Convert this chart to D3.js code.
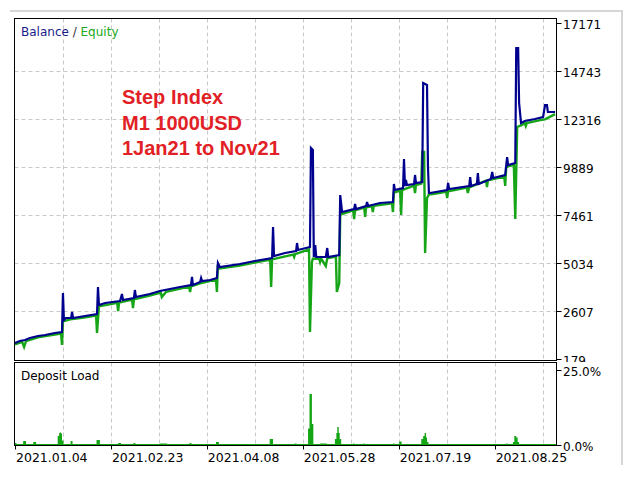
<!DOCTYPE html>
<html>
<head>
<meta charset="utf-8">
<script src="https://d3js.org/d3.v7.min.js"></script>
<style>
    body { margin: 0; background: #fff; }
    svg text { font-family: "DejaVu Sans", sans-serif; }
</style>
</head>
<body>
<div id="chart"></div>
<script>
// deal number -> balance / equity (USD)
const balance = [
    [0, 988], [10, 1089], [21, 1140], [31, 1241], [48, 1342], [63, 1393], [83, 1494], [98, 1544],
    [100, 3517], [102, 2151], [106, 2252], [117, 2252], [119, 2556], [121, 2252], [146, 2354], [171, 2455],
    [173, 3820], [175, 2910], [188, 3011], [219, 3112], [223, 3466], [225, 3163], [248, 3264], [250, 3668],
    [252, 3314], [281, 3466], [302, 3618], [323, 3719], [344, 3820], [367, 3921], [369, 4326], [371, 3921],
    [386, 4073], [388, 4275], [390, 4123], [407, 4174], [421, 4275], [423, 5034], [427, 4831], [469, 4983],
    [500, 5135], [536, 5287], [538, 6854], [540, 5388], [563, 5539], [586, 5640], [588, 6045], [590, 5691],
    [615, 5843], [617, 10849], [621, 10748], [623, 5337], [626, 5944], [628, 5337], [648, 5337], [651, 5792],
    [653, 5337], [676, 5438], [678, 8472], [682, 7613], [707, 7765], [709, 8017], [711, 7765], [732, 7916],
    [734, 8118], [736, 7916], [761, 8068], [788, 8118], [790, 9029], [792, 8725], [809, 8826], [811, 10293],
    [813, 8928], [815, 9231], [817, 8978], [832, 9029], [834, 9484], [836, 9079], [849, 9130], [851, 14136],
    [859, 14035], [861, 9888], [863, 8574], [865, 8574], [901, 8725], [903, 9079], [905, 8776], [947, 8928],
    [949, 9383], [951, 8928], [963, 9029], [965, 9585], [967, 9029], [992, 9282], [995, 9636], [997, 9332],
    [1022, 9484], [1026, 10394], [1028, 9990], [1043, 10091], [1045, 15906], [1049, 15906], [1051, 13125],
    [1055, 12114], [1063, 12215], [1084, 12316], [1101, 12417], [1105, 13024], [1109, 13024], [1111, 12670],
    [1126, 12670]
];

const equity = [
    [0, 920], [15, 1040], [19, 786], [23, 1080], [48, 1270], [83, 1420], [96, 1470], [98, 887],
    [100, 2080], [115, 2180], [144, 2280], [169, 2380], [171, 1494], [175, 2840], [213, 3020], [215, 2606],
    [217, 3030], [244, 3180], [246, 2758], [248, 3190], [281, 3390], [304, 3540], [306, 3314], [315, 3570],
    [363, 3840], [365, 3567], [367, 3850], [386, 4000], [419, 4200], [421, 3567], [423, 4960], [427, 4760],
    [469, 4910], [532, 5210], [534, 3820], [536, 5215], [580, 5460], [582, 5337], [584, 5480], [613, 5720],
    [615, 1544], [619, 5084], [621, 5250], [634, 5260], [636, 5084], [638, 5260], [648, 4882], [651, 5270],
    [669, 5360], [671, 3567], [676, 4022], [678, 7411], [680, 7500], [705, 7690], [707, 7259], [709, 7700],
    [728, 7840], [730, 7360], [732, 7850], [744, 7900], [746, 7613], [748, 7920], [786, 8050], [788, 7613],
    [790, 8600], [803, 8700], [805, 7461], [807, 8720], [832, 8950], [834, 8574], [836, 8980], [847, 9050],
    [849, 10647], [853, 10647], [855, 5539], [859, 8321], [863, 8500], [874, 8530], [890, 8600], [899, 8640],
    [901, 8321], [903, 8660], [942, 8850], [944, 8574], [947, 8860], [982, 9200], [984, 8877], [986, 9210],
    [1020, 9400], [1022, 8928], [1024, 9850], [1028, 9920], [1040, 10000], [1043, 7259], [1047, 11911],
    [1055, 11990], [1063, 12100], [1065, 11962], [1067, 12110], [1095, 12260], [1105, 12300], [1126, 12560]
];

// deal number -> deposit load (%)
const depositLoad = [
    [0, 0.7], [3, 0.3], [17, 1.3], [23, 0.3], [38, 1.0], [44, 0.3], [89, 3.0], [92, 4.0], [94, 4.2],
    [96, 3.8], [98, 1.5], [101, 0.3], [116, 1.3], [120, 0.3], [170, 1.7], [177, 0.3], [215, 0.7], [221, 0.3],
    [247, 0.7], [251, 0.3], [302, 0.5], [317, 0.3], [364, 0.7], [368, 0.3], [419, 1.0], [425, 0.3],
    [531, 2.0], [538, 0.3], [583, 0.5], [587, 0.3], [611, 5.5], [614, 17], [619, 7], [622, 0.3],
    [636, 0.5], [650, 0.3], [667, 2], [670, 4], [672, 6], [675, 4], [677, 2], [680, 0.3], [705, 0.5],
    [708, 0.3], [726, 0.5], [729, 0.3], [788, 0.5], [791, 0.3], [801, 1.2], [806, 0.3], [847, 2], [851, 3],
    [854, 4], [857, 2.5], [859, 1], [862, 0.3], [1024, 0.5], [1027, 0.3], [1038, 1], [1041, 3], [1045, 2.5],
    [1048, 1], [1051, 0.3], [1128, 0.3]
];

const dealTicks = [0, 200, 400, 600, 800, 1000];
const dealLabels = ["2021.01.04", "2021.02.23", "2021.04.08", "2021.05.28", "2021.07.19", "2021.08.25"];
const dealGrid = [100, 200, 300, 400, 500, 600, 700, 800, 900, 1000, 1100];
const valueTicks = [179, 2607, 5034, 7461, 9889, 12316, 14743, 17171];
const loadTicks = [0, 25];
const loadLabels = ["0.0%", "25.0%"];
const titleLines = ["Step Index", "M1 1000USD", "1Jan21 to Nov21"];

const W = 640, H = 480;
const left = 14.5, right = 556.5;
const mainTop = 18.5, mainBottom = 360.5;
const loadTop = 362.5, loadBottom = 445.5;

let svg = d3.select("#chart").append("svg")
    .attr("width", W)
    .attr("height", H);

// light outer frame of the tester window
svg.append("path")
    .attr("d", `M10,11H622V465`)
    .attr("fill", "none")
    .attr("stroke", "#d6d6d6")
    .attr("stroke-width", 2);

let x = d3.scaleLinear().domain([0, 1130]).range([15, 557]);
let y = d3.scaleLinear().domain([179, 17171]).range([359, 23]);
let yLoad = d3.scaleLinear().domain([0, 25]).range([445, 370]);

svg.append("clipPath").attr("id", "mainClip")
    .append("rect")
    .attr("x", left).attr("y", mainTop)
    .attr("width", right - left).attr("height", mainBottom - mainTop);

// grid, main panel
let grid = svg.append("g").attr("stroke", "#c9c9c9").attr("stroke-dasharray", "4,3");
grid.selectAll(".vg").data(dealGrid).join("line")
    .attr("x1", d => Math.round(x(d)) + 0.5).attr("x2", d => Math.round(x(d)) + 0.5)
    .attr("y1", mainTop).attr("y2", mainBottom);
grid.selectAll(".hg").data(valueTicks.slice(1, -1)).join("line")
    .attr("x1", left).attr("x2", right)
    .attr("y1", d => Math.round(y(d)) + 0.5).attr("y2", d => Math.round(y(d)) + 0.5);

// equity then balance
let line = d3.line().x(d => x(d[0])).y(d => y(d[1]));
let plot = svg.append("g").attr("clip-path", "url(#mainClip)");
plot.append("path")
    .datum(equity)
    .attr("d", line)
    .attr("fill", "none")
    .attr("stroke", "#16a516")
    .attr("stroke-width", 2.4);
plot.append("path")
    .datum(balance)
    .attr("d", line)
    .attr("fill", "none")
    .attr("stroke", "#00008f")
    .attr("stroke-width", 2.2);

// right value axis
let yAxis = svg.append("g");
yAxis.selectAll("line").data(valueTicks).join("line")
    .attr("x1", right).attr("x2", right + 5)
    .attr("y1", d => Math.round(y(d)) + 0.5).attr("y2", d => Math.round(y(d)) + 0.5)
    .attr("stroke", "#000");
yAxis.selectAll("text").data(valueTicks).join("text")
    .attr("x", 563)
    .attr("y", d => y(d) + 2)
    .attr("dominant-baseline", "central")
    .attr("font-size", 12)
    .attr("fill", "#000")
    .text(d => d);

// legend + note
let legend = svg.append("text").attr("x", 21).attr("y", 36).attr("font-size", 12);
legend.append("tspan").attr("fill", "#1a1a8c").text("Balance");
legend.append("tspan").attr("fill", "#333").text(" / ");
legend.append("tspan").attr("fill", "#21a821").text("Equity");

svg.append("g").selectAll("text").data(titleLines).join("text")
    .attr("x", 122)
    .attr("y", (d, i) => 104 + i * 25.5)
    .style("font-family", "'Liberation Sans', Arial, sans-serif")
    .attr("font-weight", "bold")
    .attr("font-size", 20)
    .attr("fill", "#e21f26")
    .text(d => d);

svg.append("rect")
    .attr("x", left).attr("y", mainTop)
    .attr("width", right - left).attr("height", mainBottom - mainTop)
    .attr("fill", "none").attr("stroke", "#000");

// deposit load panel (white band hides the cut 179 label like the original)
svg.append("rect")
    .attr("x", 10).attr("y", loadTop - 0.5)
    .attr("width", 608).attr("height", loadBottom - loadTop + 1)
    .attr("fill", "#fff");
svg.append("g").attr("stroke", "#c9c9c9").attr("stroke-dasharray", "4,3")
    .selectAll("line").data(dealGrid).join("line")
    .attr("x1", d => Math.round(x(d)) + 0.5).attr("x2", d => Math.round(x(d)) + 0.5)
    .attr("y1", loadTop).attr("y2", loadBottom);

let area = d3.area()
    .curve(d3.curveStepAfter)
    .x(d => x(d[0]))
    .y0(yLoad(0))
    .y1(d => yLoad(d[1]));
svg.append("path")
    .datum(depositLoad)
    .attr("d", area)
    .attr("fill", "#14a514");

svg.append("rect")
    .attr("x", left).attr("y", loadTop)
    .attr("width", right - left).attr("height", loadBottom - loadTop)
    .attr("fill", "none").attr("stroke", "#000");

svg.append("text")
    .attr("x", 21).attr("y", 380)
    .attr("font-size", 12)
    .attr("fill", "#000")
    .text("Deposit Load");

let loadAxis = svg.append("g");
loadAxis.selectAll("line").data(loadTicks).join("line")
    .attr("x1", right).attr("x2", right + 5)
    .attr("y1", d => Math.round(yLoad(d)) + 0.5).attr("y2", d => Math.round(yLoad(d)) + 0.5)
    .attr("stroke", "#000");
loadAxis.selectAll("text").data(loadTicks).join("text")
    .attr("x", 563)
    .attr("y", d => yLoad(d) + 2)
    .attr("dominant-baseline", "central")
    .attr("font-size", 12)
    .attr("fill", "#000")
    .text((d, i) => loadLabels[i]);

// bottom date axis
let xAxis = svg.append("g");
xAxis.selectAll("line").data(dealTicks).join("line")
    .attr("x1", d => Math.round(x(d)) + 0.5).attr("x2", d => Math.round(x(d)) + 0.5)
    .attr("y1", loadBottom).attr("y2", loadBottom + 4)
    .attr("stroke", "#000");
xAxis.selectAll("text").data(dealTicks).join("text")
    .attr("x", d => x(d) + 1)
    .attr("y", 462)
    .attr("font-size", 12.5)
    .attr("fill", "#000")
    .text((d, i) => dealLabels[i]);
</script>
</body>
</html>
